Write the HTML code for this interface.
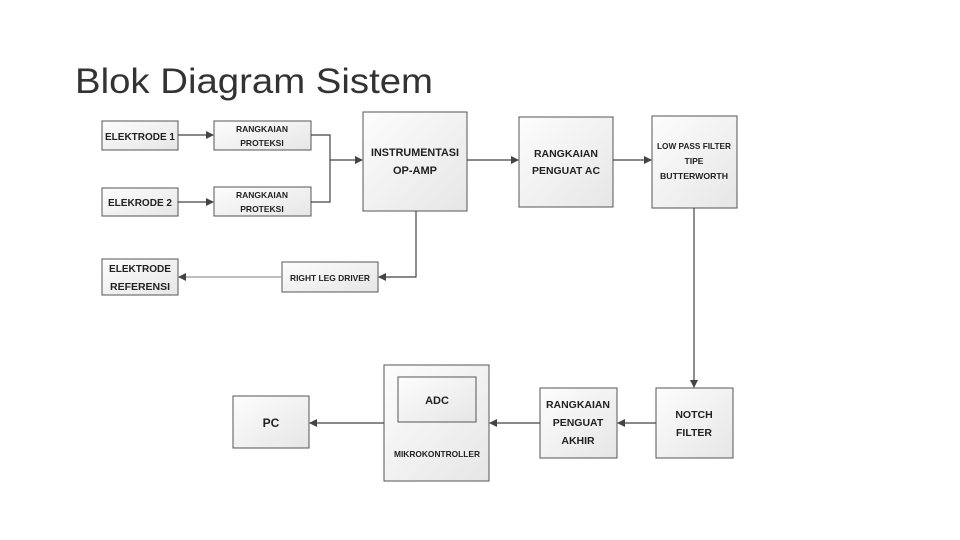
<!DOCTYPE html>
<html><head><meta charset="utf-8"><style>
html,body{margin:0;padding:0;background:#fff;width:960px;height:540px;overflow:hidden}
svg text{font-family:"Liberation Sans",sans-serif;font-weight:bold;fill:#222;text-anchor:middle}
</style></head><body>
<svg width="960" height="540" xmlns="http://www.w3.org/2000/svg">
<defs>
<linearGradient id="g" x1="0" y1="0" x2="1" y2="1"><stop offset="0" stop-color="#fdfdfd"/><stop offset="1" stop-color="#e6e6e6"/></linearGradient>
<marker id="a" markerWidth="8" markerHeight="8" refX="7" refY="4" orient="auto" markerUnits="userSpaceOnUse"><path d="M0,0 L8,4 L0,8 z" fill="#444"/></marker>
</defs>
<text x="75" y="93" textLength="358" lengthAdjust="spacingAndGlyphs" style="font-family:'Liberation Sans',sans-serif;font-weight:normal;font-size:35px;text-anchor:start;fill:#333">Blok Diagram Sistem</text>
<g stroke="#555" stroke-width="1" fill="url(#g)">
<rect x="102" y="121" width="76" height="29"/>
<rect x="214" y="121" width="97" height="29"/>
<rect x="102" y="188" width="76" height="28"/>
<rect x="214" y="187" width="97" height="29"/>
<rect x="363" y="112" width="104" height="99"/>
<rect x="519" y="117" width="94" height="90"/>
<rect x="652" y="116" width="85" height="92"/>
<rect x="102" y="259" width="76" height="36"/>
<rect x="282" y="262" width="96" height="30"/>
<rect x="656" y="388" width="77" height="70"/>
<rect x="540" y="388" width="77" height="70"/>
<rect x="384" y="365" width="105" height="116"/>
<rect x="398" y="377" width="78" height="45"/>
<rect x="233" y="396" width="76" height="52"/>
</g>
<g stroke="#444" stroke-width="1.2" fill="none">
<line x1="178" y1="135" x2="213" y2="135" marker-end="url(#a)"/>
<line x1="178" y1="202" x2="213" y2="202" marker-end="url(#a)"/>
<polyline points="311,135 330,135 330,202 311,202"/>
<line x1="330" y1="160" x2="362" y2="160" marker-end="url(#a)"/>
<line x1="467" y1="160" x2="518" y2="160" marker-end="url(#a)"/>
<line x1="613" y1="160" x2="651" y2="160" marker-end="url(#a)"/>
<line x1="694" y1="208" x2="694" y2="387" marker-end="url(#a)"/>
<polyline points="416,211 416,277 379,277" marker-end="url(#a)"/>
<line x1="282" y1="277" x2="179" y2="277" stroke="#999" marker-end="url(#a)"/>
<line x1="656" y1="423" x2="618" y2="423" marker-end="url(#a)"/>
<line x1="540" y1="423" x2="490" y2="423" marker-end="url(#a)"/>
<line x1="384" y1="423" x2="310" y2="423" marker-end="url(#a)"/>
</g>
<text x="140" y="140" font-size="10.5" textLength="70" lengthAdjust="spacingAndGlyphs">ELEKTRODE 1</text>
<text x="262" y="132" font-size="8.5" textLength="52" lengthAdjust="spacingAndGlyphs">RANGKAIAN</text>
<text x="262" y="146" font-size="8.5">PROTEKSI</text>
<text x="140" y="206" font-size="10.5" textLength="64" lengthAdjust="spacingAndGlyphs">ELEKRODE 2</text>
<text x="262" y="198" font-size="8.5" textLength="52" lengthAdjust="spacingAndGlyphs">RANGKAIAN</text>
<text x="262" y="212" font-size="8.5">PROTEKSI</text>
<text x="415" y="156" font-size="11" textLength="88" lengthAdjust="spacingAndGlyphs">INSTRUMENTASI</text>
<text x="415" y="174" font-size="11">OP-AMP</text>
<text x="566" y="157" font-size="10.5" textLength="64" lengthAdjust="spacingAndGlyphs">RANGKAIAN</text>
<text x="566" y="174" font-size="10.5" textLength="68" lengthAdjust="spacingAndGlyphs">PENGUAT AC</text>
<text x="694" y="149" font-size="8.5" textLength="74" lengthAdjust="spacingAndGlyphs">LOW PASS FILTER</text>
<text x="694" y="164" font-size="8.5">TIPE</text>
<text x="694" y="179" font-size="8.5" textLength="68" lengthAdjust="spacingAndGlyphs">BUTTERWORTH</text>
<text x="140" y="272" font-size="10.5" textLength="62" lengthAdjust="spacingAndGlyphs">ELEKTRODE</text>
<text x="140" y="290" font-size="10.5" textLength="60" lengthAdjust="spacingAndGlyphs">REFERENSI</text>
<text x="330" y="281" font-size="8.5" textLength="80" lengthAdjust="spacingAndGlyphs">RIGHT LEG DRIVER</text>
<text x="694" y="418" font-size="10.5">NOTCH</text>
<text x="694" y="436" font-size="10.5">FILTER</text>
<text x="578" y="408" font-size="10.5" textLength="64" lengthAdjust="spacingAndGlyphs">RANGKAIAN</text>
<text x="578" y="426" font-size="10.5">PENGUAT</text>
<text x="578" y="444" font-size="10.5">AKHIR</text>
<text x="437" y="404" font-size="11">ADC</text>
<text x="437" y="457" font-size="8.5" textLength="86" lengthAdjust="spacingAndGlyphs">MIKROKONTROLLER</text>
<text x="271" y="427" font-size="12">PC</text>
</svg>
</body></html>
